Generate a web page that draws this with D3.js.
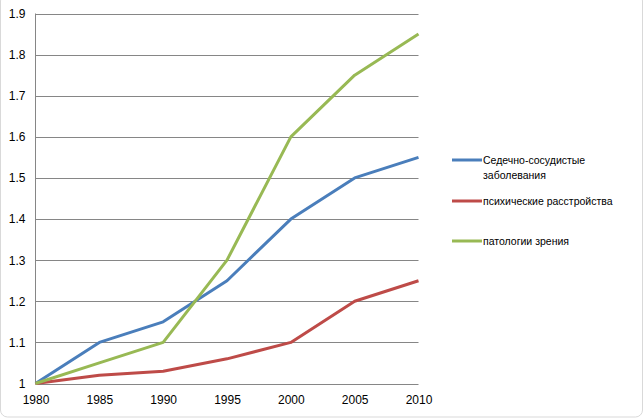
<!DOCTYPE html>
<html><head><meta charset="utf-8">
<script src="https://cdn.jsdelivr.net/npm/d3@7"></script>
<style>body{margin:0;background:#fff}svg{display:block}</style>
</head><body>
<svg id="c" width="643" height="419"></svg>
<script>
const years = [1980, 1985, 1990, 1995, 2000, 2005, 2010];
const yTicks = [1, 1.1, 1.2, 1.3, 1.4, 1.5, 1.6, 1.7, 1.8, 1.9];
const seriesNames = ["Седечно-сосудистые заболевания", "психические расстройства", "патологии зрения"];
const cardio = [1, 1.1, 1.15, 1.25, 1.4, 1.5, 1.55];
const mental = [1, 1.02, 1.03, 1.06, 1.1, 1.2, 1.25];
const vision = [1, 1.05, 1.1, 1.3, 1.6, 1.75, 1.85];
const colors = ["#4A7EBB", "#BE4B48", "#98B954"];

const svg = d3.select("#c");
const font = "'Liberation Sans', Arial, sans-serif";
svg.append("rect").attr("x",0.5).attr("y",-6).attr("width",642).attr("height",423)
  .attr("rx",7).attr("fill","#fff").attr("stroke","#d9d9d9");

const x = d3.scaleLinear().domain([1980, 2010]).range([35.5, 418.5]);
const y = d3.scaleLinear().domain([1, 1.9]).range([383.5, 13.5]);

const g = svg.append("g");
g.selectAll("line.grid").data(yTicks).join("line")
  .attr("x1", x(1980)).attr("x2", x(2010))
  .attr("y1", d => Math.round(y(d))+0.5).attr("y2", d => Math.round(y(d))+0.5)
  .attr("stroke", "#868686").attr("stroke-width", 1);
g.append("line").attr("x1", 35.5).attr("x2", 35.5).attr("y1", y(1.9)).attr("y2", y(1))
  .attr("stroke", "#868686");

const yAxis = d3.axisLeft(y).tickValues(yTicks).tickSize(0).tickPadding(10)
  .tickFormat(d => d === 1 ? "1" : d3.format(".1f")(d));
const ya = svg.append("g").attr("transform", "translate(35.5,0)").call(yAxis);
ya.select(".domain").remove();
ya.selectAll("text").attr("font-family", font).attr("font-size", 12).attr("fill", "#000");

const xAxis = d3.axisBottom(x).tickValues(years).tickSize(0).tickPadding(12).tickFormat(d3.format("d"));
const xa = svg.append("g").attr("transform", "translate(0,383.5)").call(xAxis);
xa.select(".domain").remove();
xa.selectAll("text").attr("font-family", font).attr("font-size", 12).attr("fill", "#000");

const all = [cardio, mental, vision];
const line = d3.line().x((d, i) => x(years[i])).y(d => y(d));
all.forEach((s, k) => {
  svg.append("path").datum(s).attr("d", line).attr("fill", "none")
    .attr("stroke", colors[k]).attr("stroke-width", 3).attr("stroke-linejoin", "round");
});

const leg = [
  {lines: ["Седечно-сосудистые", "заболевания"], y: 160},
  {lines: ["психические расстройства"], y: 201},
  {lines: ["патологии зрения"], y: 241}
];
leg.forEach((l, k) => {
  svg.append("line").attr("x1", 452).attr("x2", 482).attr("y1", l.y).attr("y2", l.y)
    .attr("stroke", colors[k]).attr("stroke-width", 3);
  const t = svg.append("text").attr("x", 483).attr("y", l.y + 4)
    .attr("font-family", font).attr("font-size", 10.5).attr("fill", "#000");
  l.lines.forEach((s, i) => t.append("tspan").attr("x", 483).attr("dy", i ? 15 : 0).text(s));
});
</script>
</body></html>
